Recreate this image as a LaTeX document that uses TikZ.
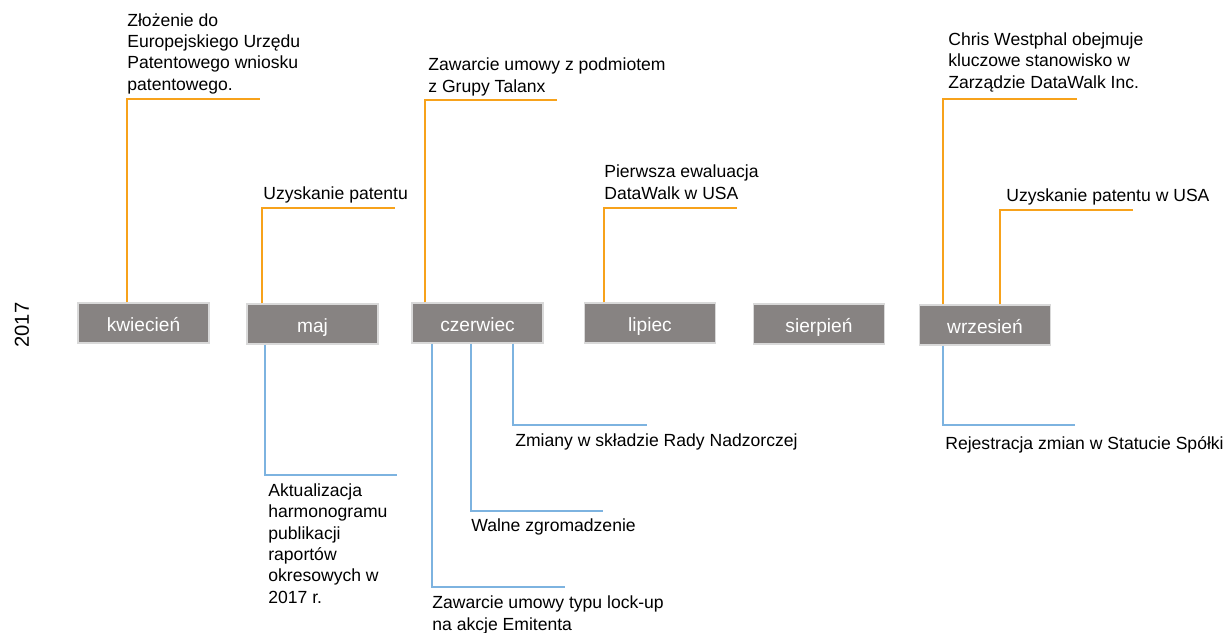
\documentclass[tikz,border=0pt]{standalone}
\usepackage{fontspec}
\setmainfont{Liberation Sans}
\usetikzlibrary{positioning}
\definecolor{monthgray}{HTML}{878382}
\definecolor{evorange}{HTML}{F7A21B}
\definecolor{evblue}{HTML}{7DB3E0}

\begin{document}
\begin{tikzpicture}[x=0.02cm,y=-0.02cm,
month/.style={draw=gray!30,line width=0.6pt,fill=monthgray,text=white,minimum width=2.62cm,minimum height=0.8cm,inner sep=0pt,text height=11pt,text depth=1pt,font=\fontsize{10.9}{13}\selectfont},
event/.style={anchor=base west,align=left,inner sep=0pt,font=\fontsize{10}{12.1}\selectfont},
topline/.style={draw=evorange,line width=1.1pt},
botline/.style={draw=evblue,line width=1.1pt}
]
\useasboundingbox (0,0) rectangle (1223,632);
\node[rotate=90,font=\fontsize{11.5}{14}\selectfont] (year) at (22,325) {2017};
\node[month] (kwi) at (143.5,323) {kwiecień};
\node[month] (maj) at (312.5,324) {maj};
\node[month] (cze) at (477.5,323) {czerwiec};
\node[month] (lip) at (650,323) {lipiec};
\node[month] (sie) at (819,324) {sierpień};
\node[month] (wrz) at (985,325) {wrzesień};
% events above (anchored at last line)
\node[event] (zlozenie) at (127,90) {Złożenie do\\Europejskiego Urzędu\\Patentowego wniosku\\patentowego.};
\node[event] (patent) at (263,199) {Uzyskanie patentu};
\node[event] (talanx) at (428,92) {Zawarcie umowy z podmiotem\\z Grupy Talanx};
\node[event] (ewaluacja) at (604,199) {Pierwsza ewaluacja\\DataWalk w USA};
\node[event] (westphal) at (948,88) {Chris Westphal obejmuje\\kluczowe stanowisko w\\Zarządzie DataWalk Inc.};
\node[event] (patentusa) at (1006,201) {Uzyskanie patentu w USA};
% events below
\node[event] (harmonogram) at (268,603) {Aktualizacja\\harmonogramu\\publikacji\\raportów\\okresowych w\\2017 r.};
\node[event] (lockup) at (432,630) {Zawarcie umowy typu lock-up\\na akcje Emitenta};
\node[event] (walne) at (471,531) {Walne zgromadzenie};
\node[event] (rada) at (515,446) {Zmiany w składzie Rady Nadzorczej};
\node[event] (statut) at (945,449) {Rejestracja zmian w Statucie Spółki};
% line ends
\coordinate (zlozenieEnd) at (260,99);
\coordinate (patentEnd) at (395,208);
\coordinate (talanxEnd) at (557,100);
\coordinate (ewaluacjaEnd) at (737,208);
\coordinate (westphalEnd) at (1077,99);
\coordinate (patentusaEnd) at (1133,210);
\coordinate (harmonogramEnd) at (397,475);
\coordinate (lockupEnd) at (565,587);
\coordinate (walneEnd) at (603,511);
\coordinate (radaEnd) at (647,425);
\coordinate (statutEnd) at (1075,425);
\draw[topline] (kwi.north -| 127,0) |- (zlozenieEnd);
\draw[topline] (maj.north -| 262,0) |- (patentEnd);
\draw[topline] (cze.north -| 425,0) |- (talanxEnd);
\draw[topline] (lip.north -| 604,0) |- (ewaluacjaEnd);
\draw[topline] (wrz.north -| 943,0) |- (westphalEnd);
\draw[topline] (wrz.north -| 1000,0) |- (patentusaEnd);
\draw[botline] (maj.south -| 265,0) |- (harmonogramEnd);
\draw[botline] (cze.south -| 432,0) |- (lockupEnd);
\draw[botline] (cze.south -| 471,0) |- (walneEnd);
\draw[botline] (cze.south -| 513,0) |- (radaEnd);
\draw[botline] (wrz.south -| 943,0) |- (statutEnd);
\end{tikzpicture}
\end{document}
